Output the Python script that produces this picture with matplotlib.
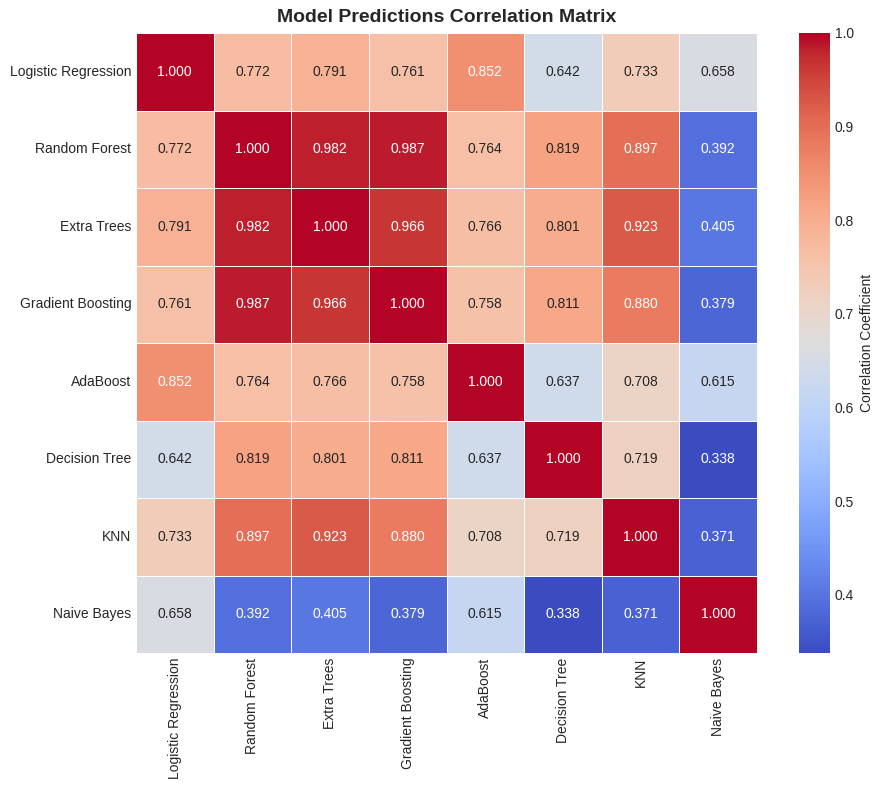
import numpy as np
import pandas as pd
import matplotlib
matplotlib.use("Agg")
import matplotlib.pyplot as plt
import seaborn as sns

plt.style.use("seaborn-v0_8-whitegrid")
plt.rcParams['font.family'] = ['Liberation Sans', 'DejaVu Sans']

models = ["Logistic Regression", "Random Forest", "Extra Trees", "Gradient Boosting",
          "AdaBoost", "Decision Tree", "KNN", "Naive Bayes"]

lr = [1.000, 0.772, 0.791, 0.761, 0.852, 0.642, 0.733, 0.658]
rf = [0.772, 1.000, 0.982, 0.987, 0.764, 0.819, 0.897, 0.392]
et = [0.791, 0.982, 1.000, 0.966, 0.766, 0.801, 0.923, 0.405]
gb = [0.761, 0.987, 0.966, 1.000, 0.758, 0.811, 0.880, 0.379]
ada = [0.852, 0.764, 0.766, 0.758, 1.000, 0.637, 0.708, 0.615]
dt = [0.642, 0.819, 0.801, 0.811, 0.637, 1.000, 0.719, 0.338]
knn = [0.733, 0.897, 0.923, 0.880, 0.708, 0.719, 1.000, 0.371]
nb = [0.658, 0.392, 0.405, 0.379, 0.615, 0.338, 0.371, 1.000]

corr = pd.DataFrame([lr, rf, et, gb, ada, dt, knn, nb], index=models, columns=models)

fig = plt.figure(figsize=(8.83, 7.9), dpi=100)
ax = fig.add_axes([136/883, 1 - 653/790, 621/883, 620/790])
cax = fig.add_axes([799/883, 1 - 653/790, 31/883, 620/790])

sns.heatmap(corr, annot=True, fmt=".3f", cmap="coolwarm", square=False,
            linewidths=0.5, linecolor="white", ax=ax, cbar_ax=cax,
            cbar_kws={"label": "Correlation Coefficient"},
            annot_kws={"size": 10})

ax.set_title("Model Predictions Correlation Matrix", fontsize=14, fontweight="bold", pad=8)
ax.tick_params(axis="x", rotation=90, labelsize=10)
ax.tick_params(axis="y", rotation=0, labelsize=10)
cax.tick_params(labelsize=10)

fig.savefig("out.png", dpi=100)
